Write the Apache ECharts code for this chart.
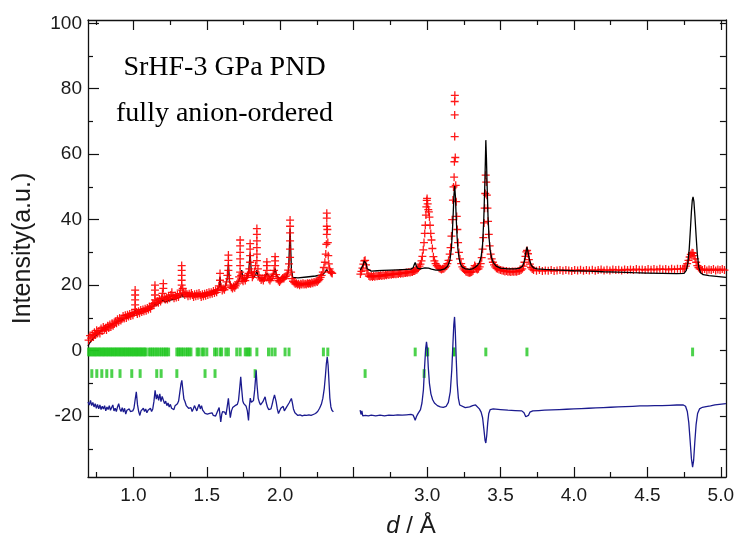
<!DOCTYPE html>
<html><head><meta charset="utf-8">
<script src="https://cdn.jsdelivr.net/npm/echarts@6/dist/echarts.min.js"></script>
<style>html,body{margin:0;padding:0;background:#fff}#c{width:737px;height:543px}</style>
</head><body><div id="c"></div>
<script>
// ---------- tick definitions ----------
const xMajorTicks = [1.0,1.5,2.0,2.5,3.0,3.5,4.0,4.5,5.0];
const xMinorTicks = [0.75,1.25,1.75,2.25,2.75,3.25,3.75,4.25,4.75];
const xTickLabels = [1.0,1.5,2.0,3.0,3.5,4.0,4.5,5.0];
const yMajorTicks = [-20,0,20,40,60,80,100];
const yMinorTicks = [-30,-10,10,30,50,70,90];
const yRightTicks = [-30,-20,-10,0,10,20,30,40,50,60,70,80,90,100];

// ---------- observed (red +), low-d segment ----------
const obsLeft = [
[0.695,3.2],[0.705,4.6],[0.712,3.8],[0.72,5.0],[0.728,4.2],[0.735,5.6],[0.742,4.8],[0.75,6.2],[0.757,5.3],[0.765,6.0],[0.772,5.2],[0.78,6.8],[0.787,6.0],[0.795,7.2],[0.802,6.4],[0.81,7.0],[0.817,6.3],[0.825,7.6],[0.832,6.9],[0.84,8.0],[0.847,7.2],[0.855,8.4],[0.862,7.6],[0.87,8.2],[0.877,9.0],[0.885,8.4],[0.892,9.6],[0.90,8.8],[0.907,10.0],[0.915,9.2],[0.922,9.8],[0.93,10.6],[0.937,9.8],[0.945,10.8],[0.952,10.0],[0.96,11.0],[0.967,10.4],[0.975,11.2],[0.982,10.6],[0.99,11.4],[0.997,10.8],[1.005,11.6],
[1.012,12.6],[1.012,14.0],[1.012,15.5],[1.012,17.0],[1.012,18.5],[1.02,11.8],[1.027,11.2],[1.035,12.0],[1.042,11.4],[1.05,12.4],[1.057,11.8],[1.065,12.6],[1.072,12.0],[1.08,12.8],[1.087,12.2],[1.095,13.0],[1.102,12.6],[1.11,13.4],[1.117,12.8],[1.125,13.6],[1.132,14.4],[1.14,14.0],
[1.147,15.5],[1.147,17.0],[1.147,18.5],[1.147,20.0],[1.155,14.6],[1.162,15.2],[1.17,14.6],[1.177,15.8],[1.185,15.0],[1.192,16.0],[1.198,17.5],[1.204,19.0],[1.204,20.5],[1.21,16.4],[1.217,15.6],[1.225,16.2],[1.232,15.6],[1.24,16.6],[1.247,16.0],[1.255,17.0],[1.262,17.8],[1.27,16.6],[1.277,16.0],[1.285,16.8],[1.292,16.2],[1.30,17.0],[1.307,16.4],[1.315,17.4],[1.322,18.5],
[1.329,20.0],[1.329,21.5],[1.329,23.0],[1.329,24.5],[1.329,26.0],[1.336,19.0],[1.343,17.6],[1.35,17.0],[1.357,17.8],[1.365,17.2],[1.372,16.6],[1.38,17.4],[1.387,16.8],[1.395,17.6],[1.402,17.0],[1.41,16.4],[1.417,17.2],[1.425,16.6],[1.432,17.4],[1.44,16.8],[1.447,17.6],[1.455,17.0],[1.462,16.4],[1.47,17.2],[1.477,16.6],[1.485,17.4],[1.492,16.8],[1.50,17.6],[1.507,17.0],[1.515,17.8],[1.522,17.2],[1.53,17.8],[1.537,17.4],[1.545,18.2],[1.552,17.6],[1.56,18.4],[1.567,17.8],[1.575,18.6],[1.582,19.8],
[1.59,21.5],[1.59,23.6],[1.597,19.4],[1.605,18.4],[1.612,19.0],[1.62,18.6],[1.627,19.4],[1.634,21.0],[1.64,23.0],[1.647,24.5],[1.647,26.0],[1.647,27.6],[1.647,29.2],[1.654,22.0],[1.66,20.0],[1.667,19.4],[1.675,19.0],[1.682,19.6],[1.69,19.2],[1.697,19.8],[1.705,20.4],[1.712,21.0],[1.72,22.5],
[1.727,24.0],[1.727,26.0],[1.727,28.0],[1.727,30.0],[1.727,32.0],[1.727,33.8],[1.734,23.0],[1.74,21.6],[1.747,21.2],[1.755,22.0],[1.762,21.4],[1.77,22.4],[1.777,23.0],[1.784,23.6],[1.79,25.0],[1.795,27.0],[1.795,29.0],[1.795,31.0],[1.795,32.7],[1.802,23.8],[1.81,22.4],[1.817,23.0],[1.825,24.2],[1.832,26.0],
[1.841,27.5],[1.841,29.5],[1.841,31.5],[1.841,33.5],[1.841,35.5],[1.841,37.3],[1.848,25.0],[1.855,23.0],[1.862,22.2],[1.87,21.6],[1.877,22.0],[1.885,21.4],[1.892,22.2],[1.90,23.0],[1.909,24.5],[1.909,26.0],[1.909,27.1],[1.916,22.6],[1.923,21.8],[1.93,21.4],[1.937,22.0],[1.945,22.6],[1.952,23.4],[1.958,24.5],[1.965,26.0],[1.965,27.4],[1.965,28.7],[1.972,23.2],[1.98,22.0],[1.987,21.4],[1.995,21.0],[2.002,21.4],[2.01,21.8],[2.017,22.2],[2.025,22.0],[2.032,22.6],[2.04,22.8],[2.047,23.4],[2.054,24.6],[2.06,26.5],
[2.067,28.5],[2.067,31.0],[2.067,33.5],[2.067,36.0],[2.067,38.0],[2.067,39.9],[2.074,24.0],[2.08,22.0],[2.087,21.2],[2.095,20.8],[2.102,20.4],[2.11,20.6],[2.117,20.2],[2.125,20.4],[2.132,20.0],[2.14,20.4],[2.147,20.2],[2.155,20.6],[2.162,20.2],[2.17,20.4],[2.177,20.2],[2.185,20.6],[2.192,20.4],[2.20,20.6],[2.207,20.4],[2.215,20.8],[2.222,20.6],[2.23,21.0],[2.237,20.8],[2.245,21.2],[2.252,21.0],[2.26,21.4],[2.267,21.8],[2.275,22.4],[2.282,23.0],[2.29,24.0],[2.297,25.4],[2.304,27.0],[2.31,29.5],[2.314,32.5],
[2.317,35.5],[2.317,38.0],[2.317,40.5],[2.317,42.0],[2.321,37.0],[2.324,33.0],[2.327,29.0],[2.331,26.5],[2.336,25.0],[2.342,24.2],[2.348,23.8],[2.354,23.6]
];

// ---------- observed (red +), high-d segment ----------
const obsRight = [
[2.546,23.4],[2.553,24.2],[2.56,25.2],[2.566,26.4],[2.572,27.4],[2.578,27.6],[2.584,26.2],[2.59,24.6],[2.597,23.4],[2.604,22.8],[2.612,22.6],[2.62,22.8],[2.628,22.5],[2.636,22.8],[2.644,22.6],[2.652,22.9],[2.66,22.7],[2.668,22.9],[2.676,22.8],[2.684,23.0],[2.692,22.8],[2.70,23.1],[2.708,22.9],[2.716,23.2],[2.724,23.0],[2.732,23.3],[2.74,23.1],[2.748,23.4],[2.756,23.2],[2.764,23.4],[2.772,23.3],[2.78,23.5],[2.788,23.3],[2.796,23.6],[2.804,23.4],[2.812,23.7],[2.82,23.5],[2.828,23.7],[2.836,23.6],[2.844,23.8],[2.852,23.7],[2.86,23.9],[2.868,23.8],[2.876,24.0],[2.884,23.9],[2.892,24.1],[2.90,24.0],[2.908,24.3],[2.916,24.3],[2.924,24.6],[2.932,24.8],[2.94,25.2],[2.948,25.8],[2.955,26.4],[2.962,27.4],[2.968,28.8],[2.974,30.8],[2.979,33.0],[2.984,35.8],[2.988,38.3],[2.992,41.4],[2.995,43.9],[2.998,45.9],[3.0,46.5],[3.004,44.8],[3.008,43.1],[3.012,42.4],[3.016,40.8],[3.02,38.3],[3.025,35.8],[3.03,33.8],[3.036,31.2],[3.043,28.7],[3.05,27.4],[3.058,26.6],[3.066,26.0],[3.074,25.6],[3.082,25.2],[3.09,25.0],[3.098,24.8],[3.106,25.0],[3.114,25.0],[3.122,25.4],[3.13,25.8],[3.138,26.6],[3.146,27.6],[3.154,29.5],[3.16,31.5],[3.166,35.0],[3.171,40.0],[3.176,46.0],[3.18,50.0],[3.184,53.0],[3.186,57.7],[3.188,65.4],[3.188,72.0],[3.188,76.1],[3.189,78.0],[3.192,59.0],[3.195,50.5],[3.198,45.5],[3.202,41.0],[3.206,37.0],[3.211,33.0],[3.217,30.0],[3.224,28.0],[3.232,26.6],[3.24,25.6],[3.248,25.0],[3.256,24.6],[3.264,24.2],[3.272,24.0],[3.28,23.9],[3.288,23.8],[3.296,23.9],[3.304,24.0],[3.312,24.3],[3.318,25.2],[3.324,26.0],[3.33,25.6],[3.336,25.0],[3.342,24.8],[3.35,25.0],[3.358,25.6],[3.365,26.6],[3.372,28.4],[3.378,31.0],[3.383,34.5],[3.388,39.0],[3.392,43.5],[3.396,48.0],[3.399,53.6],[3.403,51.5],[3.407,47.5],[3.411,43.5],[3.415,39.5],[3.42,35.5],[3.426,32.0],[3.433,29.5],[3.44,28.0],[3.448,27.0],[3.456,26.2],[3.464,25.6],[3.472,25.2],[3.48,25.0],[3.49,24.8],[3.50,24.6],[3.51,24.5],[3.52,24.4],[3.53,24.2],[3.54,24.3],[3.55,24.1],[3.56,24.2],[3.57,24.0],[3.58,24.2],[3.59,24.1],[3.60,24.2],[3.61,24.1],[3.62,24.3],[3.63,24.4],[3.64,24.6],[3.648,25.0],[3.656,25.8],[3.663,27.0],[3.67,28.8],[3.676,30.2],[3.681,30.6],[3.687,29.6],[3.693,27.8],[3.70,26.4],[3.708,25.4],[3.716,24.9],
[3.725,24.6],[3.745,24.4],[3.765,24.6],[3.785,24.3],[3.805,24.5],[3.825,24.4],[3.845,24.6],[3.865,24.3],[3.885,24.5],[3.905,24.6],[3.925,24.4],[3.945,24.6],[3.965,24.5],[3.985,24.3],[4.005,24.6],[4.025,24.5],[4.045,24.7],[4.065,24.4],[4.085,24.6],[4.105,24.5],[4.125,24.7],[4.145,24.4],[4.165,24.6],[4.185,24.8],[4.205,24.5],[4.225,24.7],[4.245,24.5],[4.265,24.8],[4.285,24.6],[4.305,24.7],[4.325,24.5],[4.345,24.8],[4.365,24.6],[4.385,24.8],[4.405,24.6],[4.425,24.9],[4.445,24.7],[4.465,24.8],[4.485,24.6],[4.505,24.9],[4.525,24.7],[4.545,24.9],[4.565,24.7],[4.585,25.0],[4.605,24.8],[4.625,24.9],[4.645,24.7],[4.665,25.0],[4.685,24.8],[4.705,25.0],[4.725,24.9],[4.742,25.0],
[4.752,25.2],[4.762,25.8],[4.771,26.6],[4.78,27.6],[4.788,28.6],[4.796,29.4],[4.804,29.9],[4.811,29.8],[4.818,29.0],[4.825,28.0],[4.832,27.0],[4.84,26.0],[4.848,25.4],[4.856,25.0],[4.865,24.8],[4.875,24.6],[4.89,24.9],[4.905,24.5],[4.92,24.8],[4.935,24.6],[4.95,24.9],[4.965,24.5],[4.98,24.8],[4.995,24.6],[5.01,24.9],[5.025,24.6]
];

// ---------- calculated (black line) ----------
const calcLeft = [
[0.691,1.4],[0.70,2.2],[0.72,3.4],[0.74,4.4],[0.76,5.2],[0.78,6.0],[0.80,6.6],[0.83,7.4],[0.86,8.0],[0.89,8.8],[0.92,9.4],[0.95,10.0],[0.98,10.6],[1.005,11.0],[1.012,12.4],[1.018,11.2],[1.05,11.8],[1.08,12.4],[1.11,13.0],[1.14,13.6],[1.147,14.6],[1.155,13.8],[1.18,14.6],[1.204,15.6],[1.215,14.8],[1.25,15.4],[1.29,15.8],[1.322,16.4],[1.329,17.6],[1.338,16.4],[1.37,16.6],[1.42,17.0],[1.47,17.4],[1.52,17.8],[1.56,18.2],[1.585,19.5],[1.59,22.5],[1.596,19.4],[1.62,19.0],[1.64,22.0],[1.647,26.6],[1.655,21.0],[1.67,19.6],[1.70,20.2],[1.72,21.5],[1.73,23.0],[1.738,24.6],[1.746,21.8],[1.77,21.8],[1.785,24.0],[1.795,29.7],[1.803,24.0],[1.815,22.4],[1.832,23.0],[1.841,24.6],[1.85,22.6],[1.88,21.6],[1.91,23.6],[1.92,24.1],[1.93,22.4],[1.955,23.4],[1.965,25.1],[1.975,22.8],[2.0,22.0],[2.04,22.4],[2.057,24.5],[2.067,37.3],[2.076,25.0],[2.085,22.4],[2.12,22.2],[2.18,22.5],[2.24,22.8],[2.29,23.2],[2.305,24.0],[2.317,24.8],[2.325,24.0],[2.332,24.5],[2.34,23.8],[2.354,23.2]
];
const calcRight = [
[2.545,24.6],[2.555,25.0],[2.565,26.2],[2.572,27.4],[2.578,27.9],[2.585,26.6],[2.592,25.0],[2.60,24.4],[2.62,24.3],[2.66,24.4],[2.70,24.5],[2.75,24.6],[2.80,24.7],[2.85,24.8],[2.89,24.9],[2.905,25.3],[2.912,26.2],[2.919,26.9],[2.926,26.0],[2.934,25.2],[2.95,25.0],[2.97,25.1],[2.985,25.3],[2.998,25.5],[3.01,25.2],[3.03,24.9],[3.06,24.6],[3.09,24.6],[3.12,25.0],[3.14,25.8],[3.155,27.5],[3.165,31.0],[3.172,36.0],[3.178,42.0],[3.183,47.5],[3.188,50.3],[3.193,47.0],[3.198,41.0],[3.204,35.0],[3.21,31.0],[3.218,28.2],[3.228,26.4],[3.24,25.5],[3.26,25.0],[3.29,24.8],[3.31,25.0],[3.325,25.4],[3.34,25.9],[3.355,26.8],[3.368,28.6],[3.378,32.5],[3.386,40.0],[3.392,49.0],[3.397,58.0],[3.40,64.3],[3.404,59.0],[3.409,50.0],[3.415,41.0],[3.422,34.5],[3.43,30.5],[3.44,28.2],[3.452,26.8],[3.47,25.8],[3.50,25.2],[3.55,25.0],[3.60,25.0],[3.63,25.2],[3.65,25.8],[3.662,27.2],[3.672,29.8],[3.68,31.7],[3.688,30.0],[3.698,27.6],[3.71,26.0],[3.725,25.3],[3.75,25.0],[3.80,24.8],[3.9,24.6],[4.0,24.4],[4.1,24.3],[4.2,24.1],[4.3,24.0],[4.4,23.8],[4.5,23.7],[4.6,23.6],[4.7,23.5],[4.75,23.6],[4.765,24.5],[4.775,26.5],[4.785,31.0],[4.793,37.0],[4.80,42.5],[4.806,46.0],[4.811,47.0],[4.817,45.5],[4.824,41.0],[4.832,35.0],[4.84,29.5],[4.85,25.5],[4.862,23.8],[4.88,23.2],[4.92,22.9],[4.97,22.7],[5.035,22.4]
];

// ---------- difference (navy line, offset) ----------
const diffLeft = [
[0.691,-15.7],[0.70,-16.6],[0.708,-15.2],[0.716,-16.8],[0.724,-15.8],[0.732,-17.2],[0.74,-16.2],[0.748,-17.6],[0.756,-16.4],[0.764,-17.8],[0.772,-16.6],[0.78,-18.0],[0.788,-17.0],[0.796,-17.8],[0.804,-16.8],[0.812,-18.4],[0.82,-17.2],[0.828,-18.0],[0.836,-16.8],[0.844,-18.2],[0.852,-17.4],[0.86,-16.6],[0.868,-18.4],[0.876,-17.6],[0.884,-18.6],[0.892,-17.2],[0.90,-16.2],[0.908,-17.8],[0.916,-18.6],[0.924,-17.4],[0.932,-18.8],[0.94,-17.6],[0.948,-19.4],[0.956,-18.2],[0.964,-18.8],[0.972,-17.8],[0.98,-18.6],[0.988,-19.2],[0.996,-18.4],[1.004,-17.6],[1.012,-15.0],[1.02,-12.6],[1.028,-16.5],[1.036,-18.6],[1.044,-19.8],[1.052,-18.4],[1.06,-19.0],[1.068,-17.6],[1.076,-18.6],[1.084,-17.8],[1.092,-19.0],[1.10,-18.2],[1.108,-18.8],[1.116,-17.6],[1.124,-18.6],[1.132,-17.8],[1.14,-15.5],[1.148,-12.1],[1.156,-14.8],[1.164,-13.4],[1.172,-15.2],[1.18,-13.2],[1.188,-15.6],[1.196,-14.0],[1.204,-13.6],[1.212,-16.2],[1.22,-15.4],[1.228,-16.8],[1.236,-16.0],[1.244,-17.2],[1.252,-16.4],[1.26,-17.6],[1.268,-17.0],[1.276,-18.0],[1.284,-16.8],[1.292,-17.4],[1.30,-16.2],[1.308,-15.4],[1.316,-12.8],[1.324,-10.2],[1.33,-9.1],[1.336,-11.6],[1.344,-14.8],[1.352,-15.6],[1.36,-16.8],[1.368,-16.2],[1.376,-17.6],[1.384,-18.2],[1.392,-17.4],[1.40,-18.6],[1.408,-17.8],[1.416,-16.8],[1.424,-17.6],[1.432,-18.4],[1.44,-17.2],[1.448,-16.4],[1.456,-17.8],[1.464,-16.8],[1.472,-18.2],[1.48,-18.8],[1.488,-19.2],[1.496,-18.6],[1.504,-19.4],[1.512,-19.8],[1.52,-19.2],[1.528,-19.6],[1.536,-19.0],[1.544,-19.8],[1.552,-19.4],[1.56,-20.0],[1.568,-19.4],[1.576,-18.2],[1.584,-17.4],[1.595,-21.8],[1.602,-19.4],[1.608,-18.6],[1.614,-19.2],[1.622,-18.8],[1.63,-19.6],[1.638,-17.4],[1.647,-14.6],[1.654,-18.0],[1.66,-20.5],[1.668,-18.4],[1.676,-17.4],[1.684,-17.8],[1.692,-16.8],[1.70,-17.2],[1.708,-16.4],[1.716,-15.2],[1.724,-11.5],[1.731,-8.0],[1.738,-12.0],[1.745,-15.4],[1.752,-16.2],[1.76,-15.8],[1.768,-17.0],[1.776,-18.4],[1.784,-21.3],[1.79,-17.0],[1.796,-14.5],[1.803,-15.8],[1.81,-16.4],[1.818,-15.2],[1.826,-12.0],[1.836,-6.0],[1.842,-10.5],[1.85,-14.6],[1.858,-15.8],[1.866,-16.6],[1.874,-17.2],[1.882,-15.6],[1.89,-14.8],[1.897,-14.1],[1.905,-16.0],[1.913,-17.2],[1.921,-18.0],[1.929,-17.4],[1.937,-17.8],[1.945,-16.4],[1.953,-14.8],[1.961,-13.5],[1.966,-13.1],[1.972,-15.6],[1.98,-17.8],[1.988,-19.2],[1.996,-18.6],[2.004,-17.6],[2.012,-18.2],[2.02,-17.0],[2.028,-18.4],[2.036,-17.8],[2.044,-17.2],[2.052,-16.6],[2.06,-16.0],[2.068,-15.4],[2.076,-14.6],[2.082,-15.8],[2.09,-17.8],[2.10,-19.0],[2.11,-19.6],[2.12,-19.8],[2.135,-19.6],[2.15,-19.9],[2.165,-19.7],[2.18,-19.8],[2.195,-19.6],[2.21,-19.8],[2.225,-19.5],[2.24,-19.2],[2.255,-18.6],[2.268,-17.6],[2.28,-16.4],[2.29,-14.6],[2.30,-11.5],[2.308,-7.5],[2.314,-4.0],[2.32,-1.9],[2.326,-4.5],[2.332,-9.5],[2.338,-14.5],[2.345,-17.2],[2.352,-18.2],[2.362,-18.7]
];
const diffRight = [
[2.544,-18.2],[2.55,-19.5],[2.556,-18.4],[2.562,-19.9],[2.57,-19.6],[2.58,-19.8],[2.60,-19.9],[2.62,-19.7],[2.65,-19.9],[2.68,-19.7],[2.71,-19.9],[2.74,-19.7],[2.77,-19.8],[2.80,-19.6],[2.83,-19.7],[2.86,-19.6],[2.89,-19.5],[2.905,-19.7],[2.912,-20.4],[2.919,-21.3],[2.927,-20.2],[2.936,-19.4],[2.945,-19.0],[2.955,-18.0],[2.965,-16.0],[2.975,-12.0],[2.983,-5.0],[2.99,0.5],[2.996,2.7],[3.002,0.5],[3.008,-5.0],[3.016,-10.0],[3.026,-13.2],[3.038,-15.0],[3.05,-16.0],[3.07,-16.8],[3.09,-17.2],[3.11,-17.3],[3.13,-17.0],[3.145,-15.8],[3.158,-12.5],[3.168,-6.0],[3.176,2.0],[3.182,8.0],[3.187,10.3],[3.192,6.0],[3.198,-2.0],[3.205,-10.0],[3.213,-14.5],[3.222,-16.6],[3.235,-17.2],[3.26,-17.4],[3.29,-17.2],[3.31,-16.8],[3.322,-16.4],[3.33,-16.6],[3.342,-17.2],[3.356,-17.8],[3.368,-18.8],[3.378,-20.5],[3.388,-24.5],[3.395,-27.5],[3.40,-28.2],[3.406,-26.0],[3.413,-22.0],[3.42,-19.2],[3.43,-18.0],[3.45,-17.8],[3.50,-18.0],[3.55,-18.2],[3.60,-18.3],[3.645,-18.4],[3.66,-19.0],[3.672,-20.2],[3.68,-20.8],[3.69,-19.8],[3.70,-18.8],[3.72,-18.4],[3.76,-18.3],[3.80,-18.2],[3.85,-18.1],[3.90,-18.0],[3.95,-17.9],[4.00,-17.8],[4.05,-17.7],[4.10,-17.6],[4.15,-17.5],[4.20,-17.4],[4.25,-17.3],[4.30,-17.2],[4.35,-17.1],[4.40,-17.0],[4.45,-16.9],[4.50,-16.9],[4.55,-16.8],[4.60,-16.8],[4.65,-16.7],[4.70,-16.6],[4.745,-16.6],[4.76,-17.0],[4.772,-18.6],[4.782,-22.0],[4.792,-28.0],[4.80,-33.0],[4.808,-35.6],[4.815,-33.5],[4.823,-28.0],[4.832,-22.5],[4.842,-19.2],[4.855,-17.8],[4.875,-17.3],[4.90,-17.1],[4.93,-16.9],[4.96,-16.6],[4.99,-16.4],[5.035,-16.2]
];

// ---------- reflection markers (green) ----------
const phase1Refl = [0.695,0.704,0.713,0.723,0.732,0.741,0.750,0.760,0.769,0.778,0.788,0.797,0.806,0.816,0.825,0.834,0.844,0.853,0.862,0.872,0.881,0.890,0.900,0.909,0.918,0.928,0.937,0.946,0.956,0.965,0.974,0.984,0.993,1.002,1.012,1.021,1.030,1.040,1.049,1.058,1.068,1.077,1.086,
1.107,1.118,1.130,1.142,1.155,1.166,1.180,1.192,1.205,1.217,1.227,1.240,1.296,1.307,1.318,1.330,1.341,1.357,1.368,1.380,1.392,1.434,1.446,1.468,1.479,1.500,1.553,1.566,1.590,1.601,1.630,1.647,1.704,1.727,1.762,1.774,1.785,1.795,1.841,1.920,1.943,1.965,2.033,2.060,2.294,2.324,
2.919,2.999,3.004,3.180,3.185,3.400,3.680,4.808];
const phase2Refl = [0.717,0.751,0.785,0.819,0.853,0.909,0.989,1.046,1.159,1.189,1.296,1.488,1.556,1.829,2.578,2.980];
const phase1Level = -0.4;
const phase2Level = -7.0;

// ---------- chart ----------
const X_MIN = 0.691, X_MAX = 5.035, Y_MIN = -38.6, Y_MAX = 101;
const AX = '#111';
const FONT = 'Liberation Sans, Arial, sans-serif';
const plusPath = 'path://M4.2,0H5.8V4.2H10V5.8H5.8V10H4.2V5.8H0V4.2H4.2Z';

function xAxisDef(pos, ticks, len, withLabels, showLine) {
  const a = {
    type: 'value', position: pos, min: X_MIN, max: X_MAX,
    axisLine: {show: showLine, onZero: false, lineStyle: {color: AX, width: 1.3}},
    axisTick: {show: true, inside: true, length: len, customValues: ticks, lineStyle: {color: AX, width: 1.2}},
    axisLabel: {show: false},
    splitLine: {show: false}
  };
  if (withLabels) {
    a.axisLabel = {show: true, customValues: xTickLabels, formatter: v => Number(v).toFixed(1),
      fontSize: 19, color: '#1a1a1a', margin: 9, fontFamily: FONT};
    a.name = '{i|d} / Å';
    a.nameLocation = 'middle';
    a.nameGap = 37;
    a.nameTextStyle = {fontSize: 24, color: '#1a1a1a', fontFamily: FONT, padding: [0, 0, 0, 8],
      rich: {i: {fontSize: 24, fontStyle: 'italic', color: '#1a1a1a', fontFamily: FONT}}};
  }
  return a;
}
function yAxisDef(pos, ticks, len, withLabels, showLine) {
  const a = {
    type: 'value', position: pos, min: Y_MIN, max: Y_MAX,
    axisLine: {show: showLine, onZero: false, lineStyle: {color: AX, width: 1.3}},
    axisTick: {show: true, inside: true, length: len, customValues: ticks, lineStyle: {color: AX, width: 1.2}},
    axisLabel: {show: false},
    splitLine: {show: false}
  };
  if (withLabels) {
    a.axisLabel = {show: true, customValues: yMajorTicks, fontSize: 19, color: '#1a1a1a', margin: 6, fontFamily: FONT};
    a.name = 'Intensity(a.u.)';
    a.nameLocation = 'middle';
    a.nameGap = 52;
    a.nameRotate = 90;
    a.nameTextStyle = {fontSize: 25, color: '#1a1a1a', fontFamily: FONT};
  }
  return a;
}

const chart = echarts.init(document.getElementById('c'), null, {renderer: 'canvas'});
const obsStyle = {type: 'scatter', symbol: plusPath, symbolSize: 8, itemStyle: {color: '#ff0000', opacity: 0.9}, z: 3, silent: true};
const calcStyle = {type: 'line', showSymbol: false, symbol: 'none', lineStyle: {color: '#000', width: 1.3}, silent: true};
const diffStyle = {type: 'line', showSymbol: false, symbol: 'none', lineStyle: {color: '#1b1b8f', width: 1.3}, z: 3, silent: true};
const reflStyle = {type: 'scatter', symbol: 'rect', symbolSize: [3, 8.7], itemStyle: {color: '#1fc71f'}, z: 2, silent: true};

chart.setOption({
  animation: false,
  backgroundColor: '#fff',
  grid: {left: 88, right: 11, top: 20, bottom: 66, containLabel: false},
  xAxis: [
    xAxisDef('bottom', xMajorTicks, 10, true, true),
    xAxisDef('bottom', xMinorTicks, 5, false, false),
    xAxisDef('top', xMajorTicks, 10, false, true),
    xAxisDef('top', xMinorTicks, 5, false, false)
  ],
  yAxis: [
    yAxisDef('left', yMajorTicks, 11, true, true),
    yAxisDef('left', yMinorTicks, 5, false, false),
    yAxisDef('right', yRightTicks, 6, false, true)
  ],
  graphic: [
    {type: 'text', x: 224.5, y: 67.5, silent: true,
     style: {text: 'SrHF-3 GPa PND', fontSize: 28, fontFamily: 'Liberation Serif, Times New Roman, serif', fill: '#000',
             align: 'center', verticalAlign: 'middle', textAlign: 'center', textVerticalAlign: 'middle'}},
    {type: 'text', x: 224.5, y: 113.5, silent: true,
     style: {text: 'fully anion-ordered', fontSize: 28, fontFamily: 'Liberation Serif, Times New Roman, serif', fill: '#000',
             align: 'center', verticalAlign: 'middle', textAlign: 'center', textVerticalAlign: 'middle'}}
  ],
  series: [
    Object.assign({}, reflStyle, {name: 'refl1', data: phase1Refl.map(d => [d, phase1Level])}),
    Object.assign({}, reflStyle, {name: 'refl2', data: phase2Refl.map(d => [d, phase2Level])}),
    Object.assign({}, calcStyle, {name: 'calcL', data: calcLeft, z: 2}),
    Object.assign({}, obsStyle, {name: 'obsL', data: obsLeft}),
    Object.assign({}, obsStyle, {name: 'obsR', data: obsRight}),
    Object.assign({}, calcStyle, {name: 'calcR', data: calcRight, z: 4}),
    Object.assign({}, diffStyle, {name: 'diffL', data: diffLeft}),
    Object.assign({}, diffStyle, {name: 'diffR', data: diffRight})
  ]
});
</script>
</body></html>
